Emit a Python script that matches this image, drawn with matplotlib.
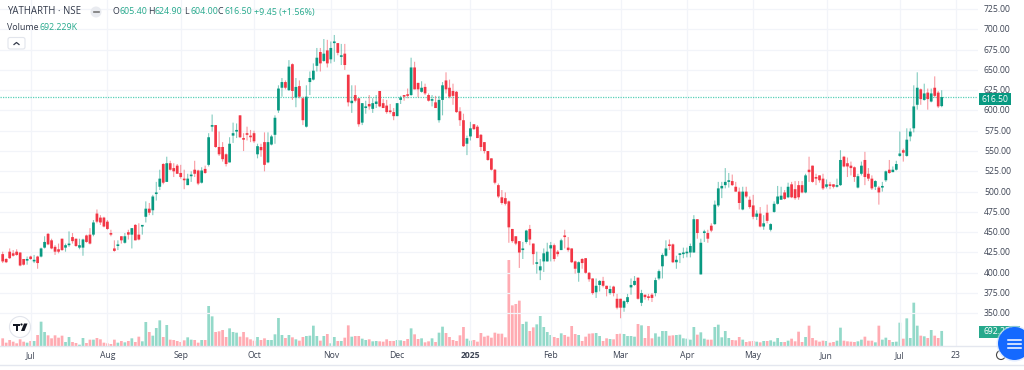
import matplotlib
matplotlib.use('Agg')
import matplotlib.pyplot as plt
from matplotlib.patches import Circle, FancyBboxPatch, Polygon, Rectangle

opens = [
    423, 417, 426, 424, 426, 425, 417, 415, 420, 414,
    420, 420, 431, 448, 440, 432, 429, 442, 431, 434,
    444, 442, 431, 431, 446, 447, 447, 473, 468, 468,
    463, 449, 430, 433, 445, 437, 450, 447, 459, 447,
    457, 469, 479, 477, 497, 506, 534, 512, 535, 529,
    532, 523, 515, 508, 519, 527, 526, 511, 528, 533,
    580, 582, 555, 555, 546, 536, 569, 574, 594, 566,
    571, 569, 572, 546, 555, 561, 536, 558, 570, 600,
    628, 635, 625, 657, 616, 630, 615, 580, 635, 638,
    655, 672, 661, 674, 663, 683, 683, 666, 670, 644,
    609, 619, 615, 585, 603, 608, 602, 608, 624, 609,
    606, 599, 598, 593, 613, 619, 619, 619, 653, 634,
    623, 629, 619, 612, 610, 588, 613, 637, 628, 624,
    623, 599, 588, 559, 568, 583, 580, 570, 561, 550,
    541, 527, 508, 493, 492, 488, 454, 445, 439, 428,
    438, 454, 436, 411, 403, 414, 414, 430, 434, 426,
    428, 445, 431, 430, 414, 400, 417, 418, 400, 393,
    376, 385, 390, 384, 375, 383, 368, 368, 357, 364,
    382, 385, 394, 363, 373, 371, 373, 375, 393, 408,
    421, 434, 435, 413, 422, 423, 424, 425, 425, 466,
    398, 449, 449, 458, 460, 483, 504, 508, 512, 513,
    506, 500, 478, 500, 490, 483, 469, 473, 457, 474,
    453, 475, 485, 490, 499, 493, 509, 503, 508, 508,
    499, 527, 532, 518, 520, 516, 506, 509, 509, 506,
    508, 543, 535, 532, 530, 505, 522, 539, 522, 516,
    506, 505, 505, 514, 527, 524, 527, 544, 551, 544,
    568, 578, 607, 626, 613, 622, 611, 628, 622, 605.4,
]
highs = [
    426, 418, 430, 428, 429, 425, 417, 420, 421, 422,
    421, 431, 445, 449, 442, 434, 436, 442, 436, 451,
    449, 442, 442, 442, 447, 455, 465, 478, 471, 469,
    465, 453, 440, 440, 445, 449, 453, 455, 460, 461,
    458, 488, 486, 496, 512, 527, 535, 543, 538, 535,
    534, 533, 527, 522, 525, 538, 527, 530, 532, 572,
    595, 582, 574, 561, 547, 567, 585, 584, 594, 572,
    580, 576, 575, 559, 559, 573, 573, 570, 594, 631,
    640, 637, 662, 658, 640, 637, 617, 631, 648, 658,
    677, 677, 688, 687, 685, 693, 683, 682, 682, 644,
    631, 631, 615, 609, 612, 619, 615, 619, 624, 614,
    613, 608, 603, 609, 618, 619, 627, 665, 660, 634,
    636, 633, 621, 619, 618, 618, 635, 647, 638, 633,
    624, 604, 596, 569, 586, 583, 582, 571, 561, 550,
    541, 528, 510, 502, 499, 489, 454, 445, 439, 438,
    453, 459, 436, 426, 417, 430, 437, 438, 436, 428,
    442, 453, 444, 430, 415, 414, 418, 418, 401, 393,
    393, 391, 395, 384, 384, 384, 374, 368, 366, 374,
    393, 396, 394, 379, 373, 374, 375, 394, 404, 424,
    440, 441, 436, 421, 424, 431, 431, 436, 471, 466,
    442, 453, 453, 461, 489, 512, 512, 529, 523, 521,
    512, 505, 506, 506, 494, 496, 477, 481, 471, 484,
    461, 488, 507, 506, 502, 511, 512, 513, 513, 513,
    522, 543, 532, 522, 520, 522, 515, 512, 509, 516,
    551, 544, 542, 537, 531, 522, 537, 549, 529, 520,
    514, 507, 512, 526, 539, 531, 538, 574, 553, 578,
    578, 631, 647, 627, 633, 627, 627, 642, 624, 624.9,
]
lows = [
    412, 412, 417, 420, 421, 408, 409, 410, 416, 412,
    405, 419, 430, 434, 429, 422, 424, 427, 426, 432,
    436, 432, 429, 421, 437, 435, 445, 461, 459, 456,
    453, 445, 426, 428, 436, 436, 441, 430, 440, 440,
    447, 462, 471, 471, 489, 502, 509, 512, 526, 518,
    522, 516, 503, 508, 512, 518, 508, 510, 522, 531,
    574, 554, 544, 537, 531, 536, 560, 566, 566, 550,
    563, 561, 560, 541, 543, 525, 535, 557, 559, 597,
    617, 626, 624, 613, 604, 615, 582, 579, 619, 637,
    648, 648, 660, 653, 658, 660, 668, 656, 650, 605,
    597, 610, 580, 582, 596, 601, 597, 603, 604, 603,
    596, 596, 588, 593, 608, 612, 615, 618, 626, 616,
    622, 619, 611, 605, 603, 585, 594, 621, 615, 607,
    597, 581, 555, 545, 563, 576, 566, 550, 547, 538,
    526, 509, 492, 484, 483, 437, 437, 434, 406, 417,
    436, 434, 410, 399, 391, 401, 414, 414, 414, 420,
    428, 430, 426, 412, 399, 389, 405, 399, 389, 373,
    369, 377, 382, 371, 373, 371, 355, 344, 352, 362,
    373, 384, 367, 359, 367, 366, 364, 371, 391, 393,
    420, 428, 412, 405, 412, 418, 419, 419, 425, 442,
    398, 438, 437, 450, 459, 481, 492, 504, 505, 507,
    500, 478, 477, 492, 479, 466, 465, 456, 453, 461,
    451, 474, 484, 490, 490, 492, 492, 490, 490, 498,
    498, 512, 511, 508, 511, 502, 504, 503, 504, 505,
    507, 530, 518, 520, 512, 504, 520, 508, 513, 502,
    502, 484, 500, 512, 522, 524, 526, 543, 537, 543,
    562, 573, 601, 607, 612, 601, 610, 616, 603, 604,
]
closes = [
    414, 413, 418, 421, 422, 409, 410, 417, 417, 416,
    412, 430, 438, 435, 430, 426, 426, 428, 434, 436,
    439, 433, 434, 441, 438, 436, 462, 463, 462, 457,
    454, 447, 427, 434, 440, 445, 447, 455, 440, 441,
    458, 479, 474, 494, 499, 516, 511, 535, 527, 525,
    522, 518, 514, 516, 520, 522, 510, 526, 523, 567,
    581, 555, 546, 540, 534, 559, 572, 575, 567, 564,
    570, 567, 562, 556, 551, 533, 561, 568, 591, 627,
    635, 628, 654, 624, 629, 617, 588, 617, 640, 649,
    665, 658, 670, 658, 677, 685, 671, 667, 656, 610,
    612, 612, 583, 609, 604, 605, 609, 611, 605, 603,
    598, 598, 593, 609, 616, 617, 618, 653, 626, 626,
    628, 621, 612, 614, 603, 613, 631, 626, 617, 618,
    598, 588, 556, 566, 578, 577, 566, 555, 550, 539,
    527, 511, 494, 486, 485, 456, 439, 436, 425, 430,
    452, 441, 423, 412, 408, 424, 426, 434, 417, 423,
    440, 444, 428, 413, 405, 413, 412, 400, 392, 375,
    384, 390, 384, 380, 380, 375, 357, 357, 365, 370,
    385, 390, 368, 375, 370, 369, 369, 391, 402, 422,
    430, 433, 413, 416, 423, 425, 426, 433, 466, 449,
    437, 451, 442, 452, 484, 504, 507, 512, 513, 508,
    500, 486, 500, 494, 481, 469, 473, 457, 461, 464,
    460, 485, 494, 495, 491, 506, 493, 492, 493, 499,
    520, 524, 512, 516, 514, 504, 509, 507, 506, 508,
    539, 531, 531, 529, 518, 519, 532, 518, 516, 504,
    513, 499, 507, 525, 523, 527, 534, 547, 548, 564,
    574, 605, 628, 614, 621, 614, 621, 618, 605, 616.5,
]
volumes = [
    353, 153, 276, 199, 123, 307, 199, 153, 230, 230,
    506, 1119, 644, 491, 353, 491, 383, 475, 184, 414,
    184, 138, 61, 368, 138, 291, 291, 368, 307, 153,
    123, 92, 291, 153, 230, 169, 230, 353, 184, 429,
    215, 1104, 644, 475, 828, 1180, 414, 966, 291, 276,
    230, 184, 261, 399, 291, 276, 153, 276, 276, 1840,
    1364, 644, 675, 736, 414, 812, 644, 613, 429, 644,
    399, 307, 245, 414, 276, 353, 276, 276, 537, 1288,
    506, 368, 506, 399, 307, 245, 414, 460, 475, 935,
    460, 245, 460, 552, 123, 414, 230, 230, 383, 950,
    429, 460, 460, 337, 276, 307, 215, 230, 215, 199,
    307, 230, 230, 276, 261, 230, 322, 812, 537, 322,
    353, 169, 215, 353, 184, 613, 889, 598, 414, 276,
    230, 491, 874, 337, 245, 276, 199, 598, 429, 475,
    383, 613, 567, 567, 399, 3955, 1870, 1932, 2085, 1012,
    1119, 690, 858, 996, 1380, 874, 644, 506, 414, 368,
    583, 506, 429, 920, 552, 506, 230, 429, 567, 583,
    598, 460, 230, 353, 322, 307, 552, 567, 552, 460,
    460, 429, 1012, 950, 368, 920, 353, 583, 429, 690,
    690, 475, 491, 506, 521, 353, 337, 291, 874, 521,
    629, 337, 291, 291, 874, 981, 399, 690, 368, 276,
    261, 414, 291, 184, 215, 230, 199, 169, 230, 230,
    261, 199, 368, 184, 184, 245, 337, 215, 659, 184,
    414, 935, 368, 261, 199, 245, 230, 153, 184, 245,
    843, 245, 215, 199, 184, 215, 291, 429, 245, 245,
    169, 935, 291, 383, 276, 184, 199, 1073, 337, 1272,
    368, 1993, 935, 475, 445, 368, 736, 475, 368, 692,
]
prices = [725, 700, 675, 650, 625, 600, 575, 550, 525, 500, 475, 450, 425, 400, 375, 350]
month_labels = ['Jul', 'Aug', 'Sep', 'Oct', 'Nov', 'Dec', '2025', 'Feb', 'Mar', 'Apr', 'May', 'Jun', 'Jul', '23']
month_pos = [8, 30, 51, 72, 94, 113, 134, 157, 177, 196, 215, 236, 257, 273]
last_price = 616.5

GREEN = '#089981'
RED = '#f23645'
GRID = '#f2f4f9'
FONT = 'Open Sans'
W, H = 1024, 370


def px_axes(fig, left, top, right, bottom):
    return fig.add_axes([left / W, 1 - bottom / H, (right - left) / W, (bottom - top) / H])


fig = plt.figure(figsize=(W / 100, H / 100), dpi=100, facecolor='white')

# volume pane sits behind the candles, same area
ax_v = px_axes(fig, 0, 0, 978, 346)
ax_v.set_xlim(-0.77, 279.4)
ax_v.set_ylim(0, 15916)
ax_v.axis('off')

ax = px_axes(fig, 0, 0, 978, 346)
ax.set_facecolor('none')
ax.set_xlim(-0.77, 279.4)
ax.set_ylim(309.8, 736.1)
for s in ax.spines.values():
    s.set_visible(False)

ax.set_yticks(prices)
ax.set_xticks(month_pos)
ax.grid(True, color=GRID, lw=0.9)
ax.set_axisbelow(True)
ax.tick_params(length=0, labelleft=False, labelbottom=False)

xs = range(len(closes))
ups = [c >= o for o, c in zip(opens, closes)]
cols = [GREEN if u else RED for u in ups]
tops = [max(o, c) for o, c in zip(opens, closes)]
bots = [min(o, c) for o, c in zip(opens, closes)]

vbars = ax_v.bar(xs, volumes, width=0.78, color=['#93d9c9' if u else '#ffabb2' for u in ups], lw=0)
wicks = ax.vlines(xs, lows, highs, colors=cols, lw=0.8, alpha=0.5, zorder=3)
wicks.set_snap(False)
# very small bodies still need to show as a dash
bodies = ax.bar(xs, [max(t - b, 2) for t, b in zip(tops, bots)], bottom=bots, width=0.78, color=cols, lw=0, zorder=4)
for r in list(vbars) + list(bodies):
    r.set_snap(False)

# last price line, kept as a pale dotted teal
ax.plot([-0.77, 279.4], [last_price, last_price], color='#58d0b8', lw=0.9, ls=(0, (1, 1)), zorder=2,
        solid_capstyle='butt', dash_capstyle='butt')

# everything around the plot, drawn in pixel coordinates
ov = fig.add_axes([0, 0, 1, 1], facecolor='none')
ov.set_xlim(0, W)
ov.set_ylim(H, 0)
ov.axis('off')

ov.plot([0, W], [346, 346], color='#e4e7ef', lw=1)
ov.plot([0, W], [364.5, 364.5], color='#e4e7ef', lw=1)

for p in prices:
    y = 9.5 + (725 - p) * 0.8115
    ov.text(984, y, f'{p:.2f}', fontsize=6.2, color='#3d4454', va='center', ha='left', family=FONT)

for lab, pos in zip(month_labels, month_pos):
    x = 2.67 + 3.49 * pos
    ov.text(x, 355.5, lab, fontsize=6.2, color='#3d4454', ha='center', va='center', family=FONT,
            fontweight='bold' if lab == '2025' else 'normal')

# last price and volume tags
ov.add_patch(Rectangle((979, 93), 32, 11.5, fc=GREEN, lw=0, zorder=5))
ov.text(995, 99, '616.50', fontsize=6.2, color='white', ha='center', va='center', family=FONT, zorder=6)
ov.add_patch(Rectangle((979, 326), 41, 11.5, fc='#26a98c', lw=0, zorder=5))
ov.text(984, 332, '692.229K', fontsize=6.2, color='white', ha='left', va='center', family=FONT, zorder=6)

# clock icon under the blue button
ov.add_patch(Circle((1001, 355), 4.5, fc='none', ec='#444', lw=0.8, zorder=6))

# floating menu button
ov.add_patch(Circle((1014.5, 343.5), 18, fc='#cfe0ff', lw=0, alpha=0.6, zorder=7))
ov.add_patch(Circle((1014.5, 343.5), 16.5, fc='#1469ff', lw=0, zorder=8))
for y in (339.5, 343.5, 347.5):
    ov.plot([1008, 1021], [y, y], color='white', lw=1.1, zorder=9)

# legend header
ov.text(7, 12, 'YATHARTH · NSE', fontsize=6.9, color='#333a4a', va='center', family=FONT)
ov.add_patch(Circle((96, 12), 5.5, fc='#e9ebf0', lw=0))
ov.plot([93.5, 98.5], [12, 12], color='#777', lw=1.2)
for head, val, x in [('O', '605.40', 112.5), ('H', '624.90', 148), ('L', '604.00', 184), ('C', '616.50', 218)]:
    ov.text(x, 12, head, fontsize=6.4, color='#333a4a', va='center', family=FONT)
    ov.text(x + 6.5, 12, val, fontsize=6.4, color='#26a98c', va='center', family=FONT)
ov.text(254, 12, '+9.45 (+1.56%)', fontsize=6.4, color='#26a98c', va='center', family=FONT)
ov.text(7, 27.5, 'Volume', fontsize=6.4, color='#333a4a', va='center', family=FONT)
ov.text(40, 27.5, '692.229K', fontsize=6.4, color='#26a98c', va='center', family=FONT)

ov.add_patch(FancyBboxPatch((8, 37.5), 17, 11.5, boxstyle='round,pad=0,rounding_size=2', fc='white', ec='#e2e5ec', lw=0.8))
ov.plot([14, 16.5, 19], [44.5, 42.5, 44.5], color='#333a4a', lw=0.9)

# TradingView badge
ov.add_patch(Circle((20, 327), 10.5, fc='white', ec='#e2e5ec', lw=0.8, zorder=5))
ov.add_patch(Polygon([(13, 323.5), (20, 323.5), (20, 325.5), (18, 325.5), (18, 331), (16, 331), (16, 325.5), (13, 325.5)], fc='#131722', lw=0, zorder=6))
ov.add_patch(Circle((21.5, 324.5), 1.1, fc='#131722', lw=0, zorder=6))
ov.add_patch(Polygon([(24, 323.5), (27.5, 323.5), (24.5, 331), (21, 331)], fc='#131722', lw=0, zorder=6))

fig.savefig('out.png', dpi=100)
